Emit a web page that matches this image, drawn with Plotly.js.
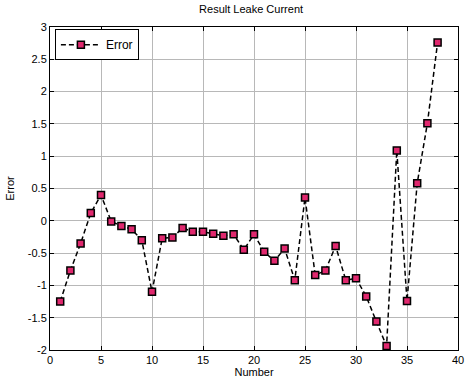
<!DOCTYPE html>
<html>
<head>
<meta charset="utf-8">
<script src="https://cdn.plot.ly/plotly-3.0.1.min.js"></script>
<style>html,body{margin:0;padding:0;background:#fff;}#chart{width:465px;height:386px;}</style>
</head>
<body>
<div id="chart"></div>
<script>
const numbers = [1,2,3,4,5,6,7,8,9,10,11,12,13,14,15,16,17,18,19,20,21,22,23,24,25,26,27,28,29,30,31,32,33,34,35,36,37,38];
const errors = [-1.25,-0.77,-0.35,0.12,0.40,-0.01,-0.08,-0.13,-0.30,-1.10,-0.27,-0.26,-0.11,-0.17,-0.17,-0.20,-0.23,-0.21,-0.45,-0.21,-0.48,-0.62,-0.43,-0.92,0.36,-0.84,-0.77,-0.39,-0.92,-0.89,-1.17,-1.56,-1.94,1.09,-1.24,0.58,1.51,2.76];
const xTicks = [0,5,10,15,20,25,30,35,40];
const yTicks = [-2,-1.5,-1,-0.5,0,0.5,1,1.5,2,2.5,3];

const font = {family: 'Liberation Sans, Arial, sans-serif', size: 11, color: '#000'};
const axisCommon = {
  showline: true, linecolor: '#000', linewidth: 1, mirror: 'allticks',
  ticks: 'inside', ticklen: 4, tickcolor: '#000', tickwidth: 1,
  showgrid: true, gridcolor: '#b8b8b8', gridwidth: 1, zeroline: false,
  tickfont: font
};
const trace = {
  x: numbers, y: errors, type: 'scatter', mode: 'lines+markers', name: 'Error',
  line: {color: '#000', dash: '5px,3px', width: 1.5},
  marker: {symbol: 'square', size: 7, color: '#e0286e', line: {color: '#000', width: 1.5}}
};
const layout = {
  width: 465, height: 386,
  margin: {l: 50, r: 7, t: 27, b: 36},
  paper_bgcolor: '#fff', plot_bgcolor: '#fff',
  font: font,
  title: {text: 'Result Leake Current', font: {family: font.family, size: 11, color: '#000'}, x: 0.54, xanchor: 'center', y: 0.985, yanchor: 'top'},
  xaxis: Object.assign({}, axisCommon, {range: [0, 40], tickvals: xTicks, ticktext: xTicks.map(String),
    title: {text: 'Number', font: font, standoff: 3}}),
  yaxis: Object.assign({}, axisCommon, {range: [-2, 3], tickvals: yTicks, ticktext: yTicks.map(String),
    title: {text: 'Error', font: font, standoff: 10}}),
  showlegend: true,
  legend: {x: 0.012, y: 0.993, xanchor: 'left', yanchor: 'top', bgcolor: '#fff', bordercolor: '#000', borderwidth: 1,
    font: {family: font.family, size: 12, color: '#000'}, itemwidth: 40, tracegroupgap: 0}
};
Plotly.newPlot('chart', [trace], layout, {displayModeBar: false, staticPlot: true});
</script>
</body>
</html>
